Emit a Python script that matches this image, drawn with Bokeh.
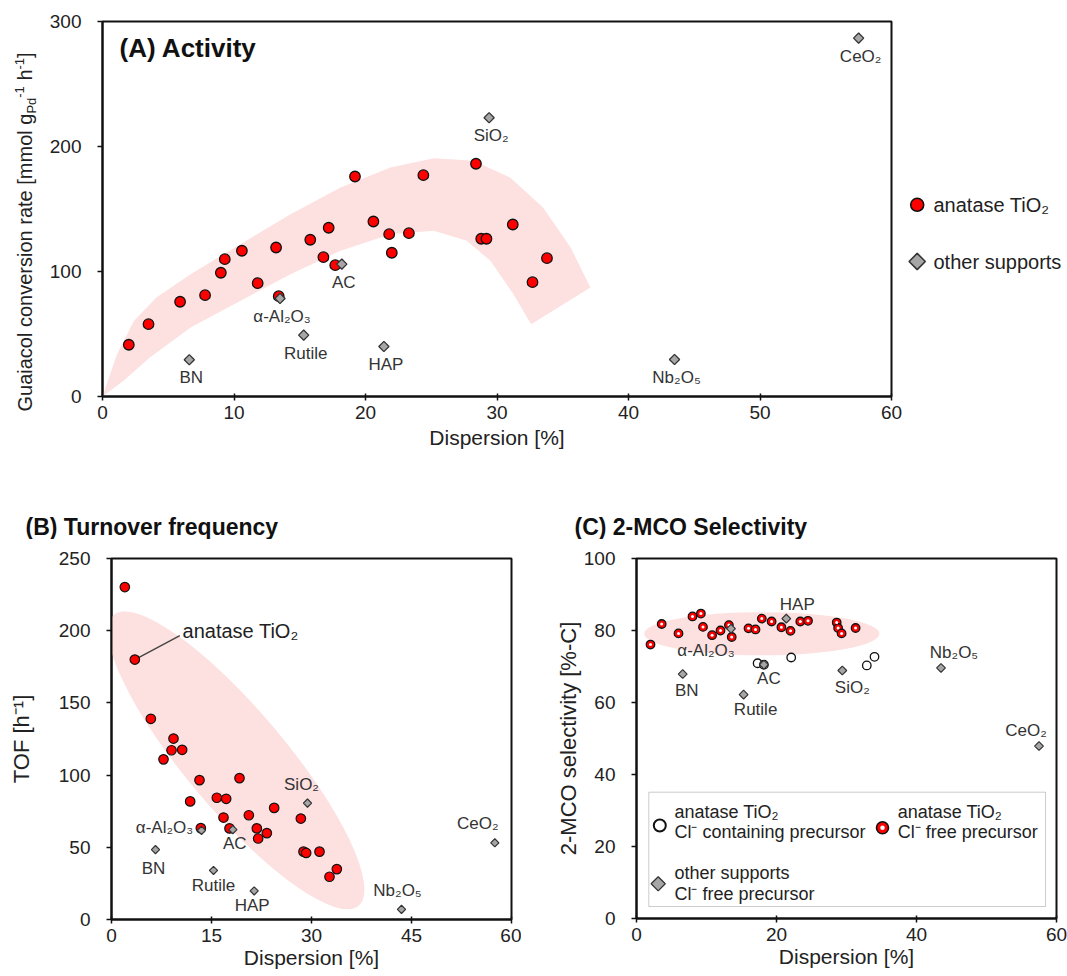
import math
from bokeh.plotting import figure
from bokeh.models import (Range1d, FixedTicker, BoxAnnotation, ColumnDataSource)
from bokeh.layouts import column, row
from bokeh.embed import file_html
from bokeh.resources import INLINE
from bokeh.core.properties import value

FONT = "Liberation Sans"
TXT = "#222222"
LBL = "#333333"
RED = "#ff0000"
GRAY = "#a6a6a6"
EDGE = "#111111"
PINK = "#fde0e0"

# ------------------------------------------------------------------ data
# anatase TiO2 supported Pd catalysts (panels A and B share the samples)
anatase_dispersion = [2.0, 3.5, 5.9, 7.8, 9.0, 9.3, 10.6, 11.8, 13.2, 13.4, 15.8, 16.8, 17.2,
                      17.7, 19.2, 20.6, 21.8, 22.0, 23.3, 24.4, 28.4, 28.8, 29.2, 31.2, 32.7, 33.8]
anatase_rate = [41.4, 57.9, 75.8, 81.1, 99.0, 109.9, 116.6, 90.7, 119.2, 80.3, 125.4, 111.5, 135.0,
                105.1, 176.0, 140.0, 129.9, 115.0, 130.7, 177.1, 186.2, 126.2, 126.2, 137.6, 91.5, 110.7]
anatase_tof = [230.2, 180.0, 139.0, 110.9, 117.2, 125.3, 117.5, 81.8, 96.5, 63.3, 84.3, 70.6, 83.6,
               63.1, 97.9, 72.2, 63.1, 56.1, 59.8, 77.3, 69.9, 47.0, 46.1, 47.0, 29.6, 34.9]

# other supports
support_names = ["BN", "α-Al₂O₃", "Rutile", "AC", "HAP", "SiO₂", "Nb₂O₅", "CeO₂"]
support_dispersion = [6.6, 13.5, 15.3, 18.2, 21.4, 29.4, 43.5, 57.5]
support_rate = [29.4, 78.4, 49.1, 105.9, 40.0, 223.0, 29.6, 286.7]
support_tof = [48.4, 61.7, 34.0, 62.2, 19.8, 80.6, 7.0, 53.1]
support_selectivity = [67.9, 80.5, 62.2, 70.5, 83.3, 68.9, 69.6, 47.9]

# panel C, anatase TiO2
clfree_dispersion = [2.0, 3.6, 6.0, 8.0, 9.2, 9.5, 10.8, 12.0, 13.2, 13.6, 16.0, 17.0, 17.9,
                     19.3, 20.7, 22.0, 23.4, 24.5, 28.6, 28.8, 29.3, 31.3]
clfree_selectivity = [76.1, 81.8, 79.2, 83.9, 84.7, 81.0, 78.7, 80.0, 81.5, 78.2, 80.6, 80.3, 83.3,
                      82.5, 80.9, 79.9, 82.5, 82.7, 82.2, 80.7, 79.2, 80.7]
clcont_dispersion = [17.3, 18.2, 22.1, 32.9, 34.0]
clcont_selectivity = [70.9, 70.5, 72.5, 70.3, 72.7]

# tick labels
x_ticks_a = [0, 10, 20, 30, 40, 50, 60]
y_ticks_a = [0, 100, 200, 300]
x_ticks_b = [0, 15, 30, 45, 60]
y_ticks_b = [0, 50, 100, 150, 200, 250]
x_ticks_c = [0, 20, 40, 60]
y_ticks_c = [0, 20, 40, 60, 80, 100]

# pink guide-to-the-eye band of panel A (outline)
band_upper_x = [0.0, 1.1, 2.4, 4.1, 6.7, 10.5, 14.3, 18.1, 21.9, 25.2, 28.2, 31.0, 33.5, 35.6, 37.1]
band_upper_y = [0.0, 33.9, 60.6, 79.2, 97.9, 121.9, 145.9, 167.2, 183.2, 190.7, 188.6, 175.2, 151.2, 119.2, 87.2]
band_lower_x = [32.6, 31.25, 29.5, 27.7, 25.2, 21.9, 18.1, 14.3, 10.5, 6.7, 3.6, 1.6, 0.0]
band_lower_y = [57.9, 81.9, 108.6, 124.6, 132.6, 129.9, 116.6, 97.9, 76.6, 55.2, 31.2, 12.6, 0.0]


# ------------------------------------------------------------------ geometry helpers
class Frame:
    def __init__(self, left, top, fw, fh, xr, yr):
        self.left, self.top, self.fw, self.fh = left, top, fw, fh
        self.xr, self.yr = xr, yr
        self.sx = fw / (xr[1] - xr[0])
        self.sy = fh / (yr[1] - yr[0])

    def d(self, px, py):
        return (self.xr[0] + (px - self.left) / self.sx,
                self.yr[0] + (self.top + self.fh - py) / self.sy)


# page-pixel placement of the three plot frames
FA = Frame(102, 21, 789, 375, (0, 60), (0, 300))
FB = Frame(111, 558, 400, 361, (0, 60), (0, 250))
FC = Frame(636, 558, 420, 360, (0, 60), (0, 100))


def make_fig(fr, cl, ct, W, H, xticks, yticks, xstand, xlab_stand):
    bl = fr.left - cl
    bt = fr.top - ct
    br = W - bl - fr.fw
    bb = H - bt - fr.fh
    p = figure(frame_width=fr.fw, frame_height=fr.fh,
               x_range=Range1d(*fr.xr), y_range=Range1d(*fr.yr),
               min_border_left=bl, min_border_right=br,
               min_border_top=bt, min_border_bottom=bb,
               output_backend="svg", toolbar_location=None, title=None)
    p.background_fill_color = "white"
    p.border_fill_color = "white"
    p.outline_line_color = EDGE
    p.outline_line_width = 2
    p.xgrid.visible = False
    p.ygrid.visible = False
    p.xaxis.ticker = FixedTicker(ticks=xticks)
    p.yaxis.ticker = FixedTicker(ticks=yticks)
    for ax in (p.xaxis[0], p.yaxis[0]):
        ax.axis_line_width = 2
        ax.axis_line_color = EDGE
        ax.major_tick_line_width = 1.5
        ax.major_tick_line_color = EDGE
        ax.minor_tick_line_color = None
        ax.major_label_text_font = FONT
        ax.major_label_text_font_size = "19px"
        ax.major_label_text_color = TXT
        ax.axis_label_text_font = FONT
        ax.axis_label_text_font_style = "normal"
        ax.axis_label_text_color = TXT
    p.xaxis.major_tick_out = 4
    p.xaxis.major_tick_in = 3
    p.xaxis.major_label_standoff = xstand
    p.yaxis.major_tick_out = 5
    p.yaxis.major_tick_in = 0
    p.yaxis.major_label_standoff = 16
    p.xaxis.axis_label = "Dispersion [%]"
    p.xaxis.axis_label_text_font_size = "21px"
    p.xaxis.axis_label_standoff = xlab_stand
    return p


def make_strip(W, H):
    s = figure(frame_width=W, frame_height=H, x_range=Range1d(0, W), y_range=Range1d(0, H),
               min_border_left=0, min_border_right=0, min_border_top=0, min_border_bottom=0,
               output_backend="svg", toolbar_location=None, title=None,
               x_axis_type=None, y_axis_type=None)
    s.outline_line_color = None
    s.background_fill_color = "white"
    s.border_fill_color = "white"
    s.xgrid.visible = False
    s.ygrid.visible = False
    return s


def stext(s, ox, oy, H, px, py, text, size, align="left", baseline="middle", angle=0.0,
          style="normal", color=TXT):
    s.text(x=[px - ox], y=[H - (py - oy)], text=[text], angle=angle,
           text_font=value(FONT), text_font_size=size, text_font_style=style,
           text_color=color, text_align=align, text_baseline=baseline)


def ftext(p, fr, px, py, text, size, align="left", baseline="middle", style="normal", color=TXT):
    x, y = fr.d(px, py)
    p.text(x=[x], y=[y], text=[text], text_font=value(FONT), text_font_size=size,
           text_font_style=style, text_color=color, text_align=align, text_baseline=baseline)


def support_labels(p, xs, ys, offsets, size="17px"):
    src = ColumnDataSource(dict(x=xs, y=ys, t=support_names,
                                dx=[o[0] for o in offsets], dy=[o[1] for o in offsets]))
    p.text(x="x", y="y", text="t", source=src, x_offset="dx", y_offset="dy",
           text_font=value(FONT), text_font_size=size, text_color=LBL,
           text_align="center", text_baseline="middle")


# ------------------------------------------------------------------ panel A
HA = 461
SL_W = 45          # left strip (rotated y title)
PA_W = 858         # plot A canvas
SR_W = 1067 - SL_W - PA_W   # right strip (legend)

pA = make_fig(FA, SL_W, 0, PA_W, HA, x_ticks_a, y_ticks_a, 5, 4)
pA.patch(band_upper_x + band_lower_x, band_upper_y + band_lower_y,
         fill_color=PINK, line_color=None)
pA.scatter(anatase_dispersion, anatase_rate, marker="circle", size=10.5,
           fill_color=RED, line_color=EDGE, line_width=1.3)
pA.scatter(support_dispersion, support_rate, marker="square", angle=math.pi / 4,
           size=7.2, fill_color=GRAY, line_color="#333333", line_width=1.3)
support_labels(pA, support_dispersion, support_rate, [(2, 18)] * len(support_names))
ftext(pA, FA, 119, 47, "(A) Activity", "26px", style="bold", color="#111111")

# left strip: y-axis title with sub/superscripts, laid out with Arial metrics
sL = make_strip(SL_W, HA)
ARIAL_W = {"G": 778, "u": 556, "a": 556, "i": 222, "c": 500, "o": 556, "l": 222, " ": 278,
           "n": 556, "v": 500, "e": 556, "r": 333, "s": 500, "t": 278, "[": 278, "m": 833,
           "g": 556, "P": 667, "d": 556, "-": 333, "1": 556, "h": 556, "]": 278}


def tw(s, size):
    return sum(ARIAL_W.get(ch, 556) for ch in s) * size / 1000.0


# (text, font px, x of the text's middle line in page px; None = blank advance)
segments = [("Guaiacol conversion rate [mmol g", 20, 24.5), ("Pd", 13, 31.0), ("-1", 13, 19.0),
            (" ", 20, None), ("h", 20, 24.5), ("-1", 13, 19.0), ("]", 20, 24.5)]
cur = 390.0
for s, fs, mid_x in segments:
    if mid_x is not None:
        stext(sL, 0, 0, HA, mid_x, cur, s, f"{fs}px", align="left",
              baseline="middle", angle=math.pi / 2)
    cur -= tw(s, fs)

# right strip: legend of panel A
sR = make_strip(SR_W, HA)
ox = SL_W + PA_W
sR.scatter([916.7 - ox], [HA - 183.3], marker="circle", size=13, fill_color=RED,
           line_color=EDGE, line_width=1.6)
sR.scatter([916.7 - ox], [HA - 240.0], marker="square", angle=math.pi / 4, size=11.5,
           fill_color=GRAY, line_color="#333333", line_width=1.6)
stext(sR, ox, 0, HA, 933, 183.3, "anatase TiO₂", "20px")
stext(sR, ox, 0, HA, 933, 240.0, "other supports", "20px")

# ------------------------------------------------------------------ titles strip
TS_TOP = HA
TS_H = 78
sT = make_strip(1067, TS_H)
stext(sT, 0, TS_TOP, TS_H, 25, 526, "(B) Turnover frequency", "23px",
      style="bold", color="#111111")
stext(sT, 0, TS_TOP, TS_H, 574, 526, "(C) 2-MCO Selectivity", "23px",
      style="bold", color="#111111")

# ------------------------------------------------------------------ panel B
ROW_TOP = TS_TOP + TS_H
HR = 975 - ROW_TOP
pB = make_fig(FB, 0, ROW_TOP, 521, HR, x_ticks_b, y_ticks_b, 5, 1)
pB.yaxis.axis_label = "TOF [h⁻¹]"
pB.yaxis.axis_label_text_font_size = "22px"
pB.yaxis.axis_label_standoff = 22
pB.ellipse(x=[18.7], y=[110.2], width=380, height=100, angle=-0.871,
           width_units="screen", height_units="screen", fill_color=PINK, line_color=None)
x0, y0 = anatase_dispersion[1], anatase_tof[1]
pB.segment(x0=[x0], y0=[y0], x1=[x0 + 45 / FB.sx], y1=[y0 + 24 / FB.sy],
           line_color="#444444", line_width=1.3)
pB.scatter(anatase_dispersion, anatase_tof, marker="circle", size=9.5,
           fill_color=RED, line_color=EDGE, line_width=1.2)
pB.scatter(support_dispersion, support_tof, marker="square", angle=math.pi / 4,
           size=5.8, fill_color=GRAY, line_color="#333333", line_width=1.2)
support_labels(pB, support_dispersion, support_tof,
               [(-2, 19), (-37, -3), (0, 15), (2, 14), (-2, 15), (-6, -19), (-4, -19), (-17, -19)])
pB.text(x=[x0], y=[y0], text=["anatase TiO₂"], x_offset=47.7, y_offset=-28.5,
        text_font=value(FONT), text_font_size="20px", text_color=TXT,
        text_align="left", text_baseline="middle")

# ------------------------------------------------------------------ panel C
pC = make_fig(FC, 521, ROW_TOP, 546, HR, x_ticks_c, y_ticks_c, 5, 1)
pC.yaxis.axis_label = "2-MCO selectivity [%-C]"
pC.yaxis.axis_label_text_font_size = "22px"
pC.yaxis.axis_label_standoff = 0
pC.ellipse(x=[17.9], y=[79.1], width=33.6, height=12.0, fill_color=PINK, line_color=None)
pC.scatter(clcont_dispersion, clcont_selectivity, marker="circle", size=8.5,
           fill_color="white", line_color=EDGE, line_width=1.3)
pC.scatter(clfree_dispersion, clfree_selectivity, marker="circle", size=8.5,
           fill_color=RED, line_color=EDGE, line_width=1.3)
pC.scatter(clfree_dispersion, clfree_selectivity, marker="circle", size=3,
           fill_color="white", line_color=None)
pC.scatter(support_dispersion, support_selectivity, marker="square", angle=math.pi / 4,
           size=6.2, fill_color=GRAY, line_color="#333333", line_width=1.2)
support_labels(pC, support_dispersion, support_selectivity,
               [(4, 16), (-25, 22), (12, 15), (5, 14), (11, -14), (10, 17), (13, -15), (-13, -16)])

# legend box of panel C
bl_x, bl_y = FC.d(648.3, 906)
tr_x, tr_y = FC.d(1045, 791.7)
pC.add_layout(BoxAnnotation(left=bl_x, right=tr_x, bottom=bl_y, top=tr_y,
                            fill_alpha=0, line_color="#555555", line_width=1))
mx, my = FC.d(659.3, 825)
pC.scatter([mx], [my], marker="circle", size=12, fill_color="white", line_color=EDGE, line_width=2)
mx, my = FC.d(882, 827.3)
pC.scatter([mx], [my], marker="circle", size=12, fill_color=RED, line_color=EDGE, line_width=1.6)
pC.scatter([mx], [my], marker="circle", size=4.5, fill_color="white", line_color=None)
mx, my = FC.d(657.7, 883.3)
pC.scatter([mx], [my], marker="square", angle=math.pi / 4, size=10, fill_color=GRAY,
           line_color="#333333", line_width=1.3)
ftext(pC, FC, 674, 811.7, "anatase TiO₂", "18px")
ftext(pC, FC, 674, 831.7, "Cl⁻ containing precursor", "18px")
ftext(pC, FC, 897.3, 811.7, "anatase TiO₂", "18px")
ftext(pC, FC, 897.3, 831.7, "Cl⁻ free precursor", "18px")
ftext(pC, FC, 674, 872.7, "other supports", "18px")
ftext(pC, FC, 674, 893.3, "Cl⁻ free precursor", "18px")

layout = column(row(sL, pA, sR), sT, row(pB, pC))
open("out.html", "w").write(file_html(layout, INLINE))
